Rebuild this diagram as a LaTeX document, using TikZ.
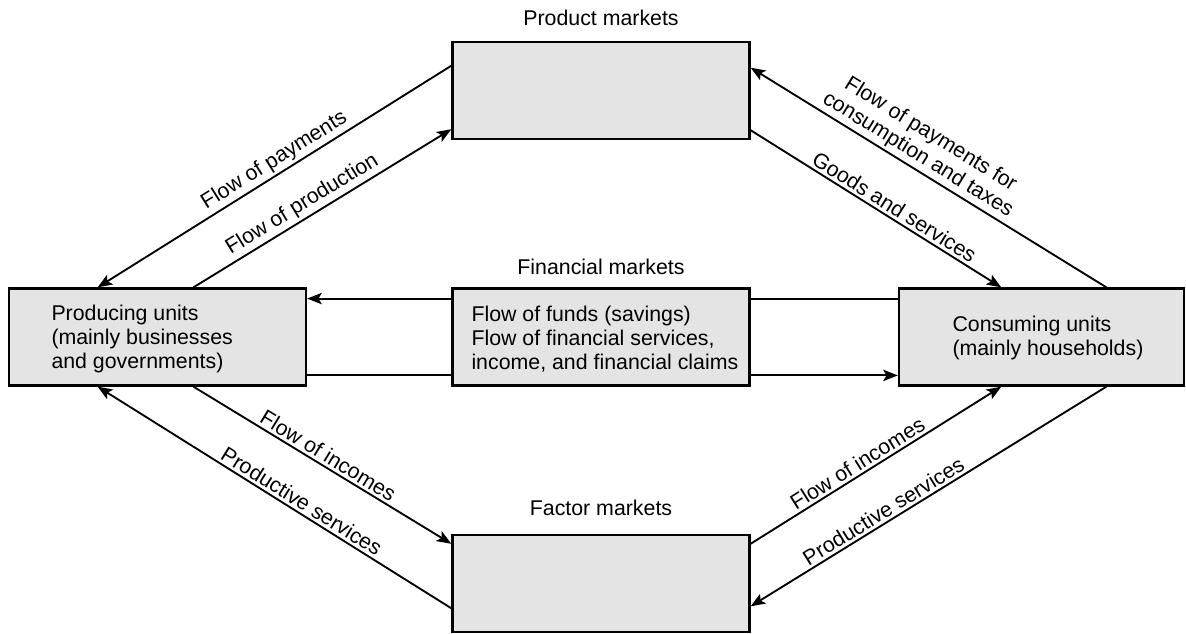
\documentclass[tikz,border=0pt]{standalone}
\usepackage{fontspec}
\setmainfont{Liberation Sans}
\usetikzlibrary{arrows.meta,calc}

\definecolor{boxgray}{RGB}{228,228,228}
\tikzset{every picture/.style={line width=0.75pt}}
\tikzset{
  market/.style={draw=black, fill=boxgray, line width=1.7pt, minimum width=222.75pt, minimum height=72.75pt, inner sep=0pt},
  flow/.style={line width=1.4pt, -{Stealth[length=11pt,width=8.5pt,inset=2.5pt]}},
  bare/.style={line width=1.4pt},
  txt/.style={font=\fontsize{16}{18}\selectfont, inner sep=0.75pt},
  lbl/.style={font=\fontsize{16}{18}\selectfont, sloped, above, inner sep=2pt, align=center},
}

\begin{document}
\begin{tikzpicture}[x=0.75pt,y=-0.75pt]
    \useasboundingbox (0,0) rectangle (1186,633);

    %Shape: Rectangle [product markets]
    \node [market] (prodmkt) at (601,90.5) {};
    %Shape: Rectangle [producing units]
    \node [market] (produnits) at (157.5,337) {};
    %Shape: Rectangle [financial markets]
    \node [market] (finmkt) at (601,337) {};
    %Shape: Rectangle [consuming units]
    \node [market, minimum width=213.75pt] (consunits) at (1041.5,337) {};
    %Shape: Rectangle [factor markets]
    \node [market] (factmkt) at (601,583.5) {};

    % Text Node
    \node [txt] (prodlbl) at (601,18) {Product markets};
    % Text Node
    \node [txt] (finlbl) at (601,267) {Financial markets};
    % Text Node
    \node [txt] (factlbl) at (601,508) {Factor markets};
    % Text Node
    \node [txt, anchor=west, align=left] (produtxt) at (50,339) {Producing units\\(mainly businesses\\and governments)};
    % Text Node
    \node [txt, anchor=west, align=left] (fintxt) at (470,339) {Flow of funds (savings)\\Flow of financial services,\\income, and financial claims};
    % Text Node
    \node [txt, anchor=west, align=left] (constxt) at (951,338) {Consuming units\\(mainly households)};

    %Straight Lines [product markets, left]
    \draw [flow] ($(prodmkt.north west)!.25!(prodmkt.south west)$) -- node [lbl, pos=.48] {Flow of payments} ($(produnits.north west)!.30!(produnits.north east)$);
    \draw [flow] ($(produnits.north west)!.62!(produnits.north east)$) -- node [lbl, pos=.45] {Flow of production} ($(prodmkt.north west)!.89!(prodmkt.south west)$);
    %Straight Lines [product markets, right]
    \draw [flow] ($(consunits.north west)!.726!(consunits.north east)$) -- node [lbl, pos=.55] {Flow of payments for\\consumption and taxes} ($(prodmkt.north east)!.27!(prodmkt.south east)$);
    \draw [flow] ($(prodmkt.north east)!.90!(prodmkt.south east)$) -- node [lbl, pos=.55] {Goods and services} ($(consunits.north west)!.36!(consunits.north east)$);

    %Straight Lines [financial markets]
    \draw [flow] ($(finmkt.north west)!.113!(finmkt.south west)$) -- ($(produnits.north east)!.113!(produnits.south east)$);
    \draw [bare] ($(finmkt.north east)!.113!(finmkt.south east)$) -- ($(consunits.north west)!.113!(consunits.south west)$);
    \draw [bare] ($(produnits.north east)!.887!(produnits.south east)$) -- ($(finmkt.north west)!.887!(finmkt.south west)$);
    \draw [flow] ($(finmkt.north east)!.887!(finmkt.south east)$) -- ($(consunits.north west)!.887!(consunits.south west)$);

    %Straight Lines [factor markets, left]
    \draw [flow] ($(produnits.south west)!.62!(produnits.south east)$) -- node [lbl, pos=.50] {Flow of incomes} ($(factmkt.north west)!.10!(factmkt.south west)$);
    \draw [flow] ($(factmkt.north west)!.75!(factmkt.south west)$) -- node [lbl, pos=.44] {Productive services} ($(produnits.south west)!.30!(produnits.south east)$);
    %Straight Lines [factor markets, right]
    \draw [flow] ($(factmkt.north east)!.10!(factmkt.south east)$) -- node [lbl, pos=.45] {Flow of incomes} ($(consunits.south west)!.36!(consunits.south east)$);
    \draw [flow] ($(consunits.south west)!.726!(consunits.south east)$) -- node [lbl, pos=.61] {Productive services} ($(factmkt.north east)!.73!(factmkt.south east)$);

\end{tikzpicture}
\end{document}
